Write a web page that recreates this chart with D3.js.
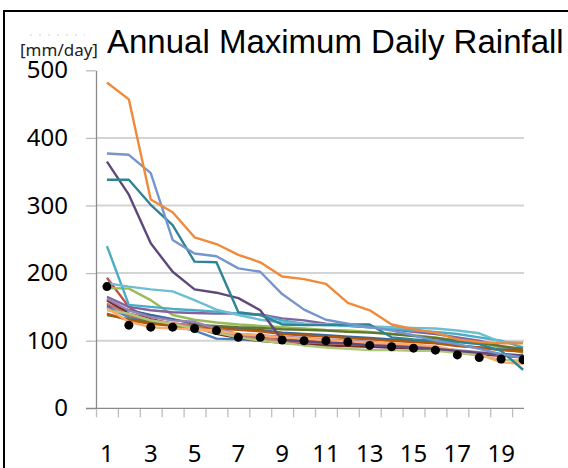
<!DOCTYPE html>
<html>
<head>
<meta charset="utf-8">
<script src="https://cdn.jsdelivr.net/npm/d3@7"></script>
<style>
  html, body { margin: 0; padding: 0; background: #fff; }
  svg { display: block; }
</style>
</head>
<body>
<div id="chart"></div>
<script>
// ranks 1..20 (sorted annual maxima)
const categories = d3.range(1, 21);
const yTicks = [0, 100, 200, 300, 400, 500];
const xLabels = [1, 3, 5, 7, 9, 11, 13, 15, 17, 19];

// one array per station, values in mm/day
const sBlue    = [150, 135, 128, 122, 115, 103, 102, 100, 98, 96, 95, 93, 92, 90, 88, 87, 84, 82, 80, 78];
const sRed     = [193, 150, 130, 125, 120, 115, 105, 104, 102, 100, 98, 96, 94, 92, 90, 88, 84, 80, 78, 75];
const sGreen   = [178, 177, 160, 138, 131, 127, 124, 122, 120, 118, 116, 115, 113, 110, 108, 105, 100, 98, 90, 82];
const sPurple  = [165, 150, 145, 142, 141, 140, 140, 139, 133, 130, 125, 122, 120, 117, 113, 110, 105, 100, 92, 85];
const sAqua    = [240, 153, 150, 147, 145, 143, 140, 138, 130, 125, 123, 122, 120, 118, 115, 113, 110, 105, 100, 90];
const sOrange  = [482, 457, 309, 290, 253, 243, 227, 216, 195, 191, 184, 156, 145, 124, 117, 112, 102, 98, 96, 96];
const sNavy    = [152, 145, 138, 132, 125, 120, 118, 116, 112, 110, 108, 106, 104, 102, 100, 97, 93, 90, 87, 85];
const sMaroon  = [160, 140, 132, 125, 120, 110, 104, 100, 97, 95, 93, 92, 91, 90, 89, 87, 83, 80, 78, 77];
const sOlive   = [138, 132, 128, 125, 123, 122, 120, 119, 117, 116, 115, 113, 112, 110, 107, 104, 100, 97, 92, 88];
const sPlum    = [365, 316, 244, 202, 176, 171, 163, 145, 101, 99, 97, 96, 93, 92, 90, 88, 85, 82, 80, 78];
const sTeal    = [338, 338, 301, 271, 217, 216, 142, 138, 124, 123, 123, 124, 124, 105, 102, 100, 98, 95, 85, 57];
const sRust    = [140, 130, 125, 122, 120, 118, 116, 114, 110, 108, 106, 104, 102, 100, 98, 96, 92, 90, 86, 84];
const sSky     = [377, 375, 348, 249, 229, 225, 207, 202, 169, 146, 131, 125, 120, 115, 108, 100, 95, 88, 80, 75];
const sRose    = [155, 138, 130, 126, 121, 112, 108, 104, 100, 98, 96, 95, 94, 92, 90, 88, 85, 82, 79, 76];
const sLime    = [145, 140, 130, 125, 118, 112, 105, 100, 97, 93, 90, 88, 86, 86, 85, 85, 82, 78, 72, 70];
const sLavender= [162, 145, 135, 130, 128, 118, 110, 108, 106, 104, 102, 100, 98, 95, 92, 90, 86, 83, 80, 78];
const sIce     = [185, 180, 176, 173, 160, 146, 138, 131, 127, 125, 124, 123, 121, 120, 119, 118, 115, 111, 98, 97];
const sPeach   = [148, 128, 120, 118, 117, 115, 110, 108, 105, 103, 101, 99, 97, 96, 94, 92, 85, 80, 68, 66];
// black dots
const sMean    = [180, 123, 120, 120, 118, 115, 105, 105, 101, 100, 100, 98, 93, 91, 89, 86, 79, 75, 73, 72];

const seriesList = [sBlue, sRed, sGreen, sPurple, sAqua, sNavy, sMaroon, sOlive, sRust,
  sRose, sLime, sLavender, sPeach, sIce, sPlum, sTeal, sSky, sOrange];
const seriesColors = ["#4F81BD", "#C0504D", "#9BBB59", "#8064A2", "#4BACC6", "#3A6595", "#772C2A", "#5F7530", "#B65708",
  "#CD7371", "#AFC97A", "#9983B5", "#F9AB6B", "#6FBDD1", "#5F497A", "#2E8395", "#7596CC", "#F08A3A"];

const width = 568, height = 468;
const plotLeft = 96, plotRight = 524, bandW = 21.9;
const plotTop = 70.3, plotBottom = 408.3;

const svg = d3.select("#chart").append("svg")
  .attr("width", width)
  .attr("height", height);

svg.append("rect")
  .attr("x", 4).attr("y", 11)
  .attr("width", 600).attr("height", 500)
  .attr("fill", "#fff")
  .attr("stroke", "#000")
  .attr("stroke-width", 2);

const xScale = d3.scaleBand()
  .domain(categories)
  .range([plotLeft, plotLeft + bandW * categories.length]);

const xEdge = d3.scaleLinear()
  .domain([0, categories.length])
  .range([plotLeft, plotLeft + bandW * categories.length]);

const yScale = d3.scaleLinear()
  .domain([0, 500])
  .range([plotBottom, plotTop]);

// gridlines
svg.append("g")
  .selectAll("line")
  .data(yTicks.filter(d => d > 0 && d < 500))
  .join("line")
    .attr("x1", plotLeft).attr("x2", plotRight)
    .attr("y1", d => yScale(d)).attr("y2", d => yScale(d))
    .attr("stroke", "#d4d4d4")
    .attr("stroke-width", 2);

// y axis
const yAxis = svg.append("g")
  .attr("transform", `translate(${plotLeft},0)`)
  .call(d3.axisLeft(yScale).tickValues(yTicks).tickSize(10).tickSizeOuter(0).tickPadding(18));
yAxis.select(".domain").attr("stroke", "#8a8a8a").attr("stroke-width", 1.3);
yAxis.selectAll(".tick line").attr("stroke", "#bdbdbd").attr("stroke-width", 1.3);
yAxis.selectAll(".tick text")
  .attr("fill", "#000")
  .style("font-family", "'Noto Sans', sans-serif")
  .style("font-size", "24px");

// x axis: tick marks between categories
const xTickAxis = svg.append("g")
  .attr("transform", `translate(0,${plotBottom})`)
  .call(d3.axisBottom(xEdge).tickValues(d3.range(0, categories.length)).tickSize(9).tickFormat(""));
xTickAxis.select(".domain").remove();
xTickAxis.selectAll(".tick line").attr("stroke", "#bdbdbd").attr("stroke-width", 1.3);

svg.append("line")
  .attr("x1", plotLeft - 10).attr("x2", plotRight)
  .attr("y1", yScale(0)).attr("y2", yScale(0))
  .attr("stroke", "#8a8a8a")
  .attr("stroke-width", 1.3);

const xLabelAxis = svg.append("g")
  .attr("transform", `translate(0,${plotBottom})`)
  .call(d3.axisBottom(xScale).tickValues(xLabels).tickSize(0).tickPadding(37));
xLabelAxis.select(".domain").remove();
xLabelAxis.selectAll(".tick text")
  .attr("fill", "#000")
  .style("font-family", "'Noto Sans', sans-serif")
  .style("font-size", "24px");

// clip to plot area
svg.append("clipPath").attr("id", "plotClip")
  .append("rect")
    .attr("x", plotLeft).attr("y", 0)
    .attr("width", plotRight - plotLeft).attr("height", plotBottom + 2);

const plot = svg.append("g").attr("clip-path", "url(#plotClip)");

const line = d3.line()
  .x((d, i) => xScale(categories[i]) + xScale.bandwidth() / 2)
  .y(d => yScale(d));

plot.selectAll(".series")
  .data(seriesList)
  .join("path")
    .attr("class", "series")
    .attr("fill", "none")
    .attr("stroke", (d, i) => seriesColors[i])
    .attr("stroke-width", 2.4)
    .attr("stroke-linejoin", "round")
    .attr("d", line);

plot.selectAll(".dot")
  .data(sMean)
  .join("circle")
    .attr("class", "dot")
    .attr("cx", (d, i) => xScale(categories[i]) + xScale.bandwidth() / 2)
    .attr("cy", d => yScale(d))
    .attr("r", 4.5)
    .attr("fill", "#000");

// titles
svg.append("text")
  .attr("x", 107).attr("y", 53)
  .style("font-family", "'Liberation Sans', Arial, sans-serif")
  .style("font-size", "33px")
  .text("Annual Maximum Daily Rainfall");

svg.append("text")
  .attr("x", 20).attr("y", 56)
  .attr("fill", "#222")
  .style("font-family", "'Noto Sans', sans-serif")
  .style("font-size", "17px")
  .text("[mm/day]");

svg.append("line")
  .attr("x1", 30).attr("x2", 85)
  .attr("y1", 35).attr("y2", 35)
  .attr("stroke", "#cfcfcf")
  .attr("stroke-dasharray", "2 7");
</script>
</body>
</html>
